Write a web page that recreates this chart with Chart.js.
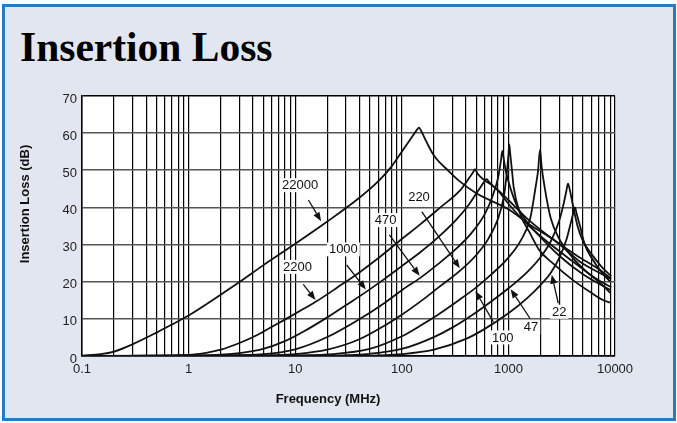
<!DOCTYPE html>
<html>
<head>
<meta charset="utf-8">
<title>Insertion Loss</title>
<script src="https://cdn.jsdelivr.net/npm/chart.js@4.4.1/dist/chart.umd.min.js"></script>
<style>
  html, body { margin: 0; padding: 0; background: #fff; }
  body { width: 677px; height: 423px; position: relative; overflow: hidden; }
  .panel { position: absolute; left: 2px; top: 4px; width: 668px; height: 411px; background: #e2e6f0; border: 3px solid #2a7abf; }
  h1 { position: absolute; left: 20px; top: 27px; margin: 0; font: bold 41.5px/41px "Liberation Serif", serif; color: #000; }
  #chart { position: absolute; left: 0; top: 0; }
</style>
</head>
<body>
<div class="panel"></div>
<h1>Insertion Loss</h1>
<canvas id="chart" width="677" height="423"></canvas>
<script>
// frequency axis (MHz): labelled decades
const decadeTicks = [0.1, 1, 10, 100, 1000, 10000];
const decadeLabels = ['0.1', '1', '10', '100', '1000', '10000'];

// capacitance of each curve (pF)
const capLabels = ['22000', '2200', '1000', '470', '220', '100', '47', '22'];

// insertion loss curves: frequency (MHz) / loss (dB)
const freq22000 = [0.1, 0.15, 0.2, 0.3, 0.5, 0.7, 1, 2, 3, 5, 10, 20, 40, 60, 80, 100, 120, 138, 145, 152, 170, 200, 280, 350, 500, 1000, 1600, 2800, 4700, 7800, 9000];
const loss22000 = [0.1, 0.5, 1.2, 3.2, 6.3, 8.5, 10.9, 16.5, 19.9, 24.4, 30.2, 36.2, 42.6, 47, 51, 55, 58.3, 60.8, 61.5, 60.6, 57.7, 54, 49.6, 47, 43.8, 39.5, 35.3, 30.8, 25.4, 21.8, 20.8];

const freq2200 = [0.1, 1, 1.5, 2, 3, 4.5, 6, 8, 12, 16, 25, 40, 60, 100, 150, 230, 350, 430, 470, 486, 510, 600, 700, 850, 1000, 1500, 2600, 4400, 7200, 9200];
const loss2200 = [0, 0.3, 0.9, 1.7, 3.5, 5.8, 7.8, 9.8, 12.7, 14.8, 18.5, 22.5, 26.3, 31.5, 35.5, 40, 44.5, 48, 49.6, 50.3, 49.2, 47.3, 46, 44, 42, 37, 31.5, 27, 23.2, 20.8];

const freq1000 = [0.1, 1, 3, 5, 8, 12, 20, 30, 47, 70, 100, 150, 220, 320, 420, 520, 590, 626, 660, 800, 1000, 1500, 2500, 4000, 6500, 9200];
const loss1000 = [0, 0.1, 0.8, 1.9, 4, 6.6, 10.4, 13.7, 17.4, 20.9, 24.2, 28, 32, 36.5, 40.5, 44.5, 46.8, 47.6, 46.8, 44.5, 41, 35.5, 30, 25.5, 21, 18.5];

const freq470 = [0.1, 1, 5, 10, 20, 40, 70, 100, 150, 220, 330, 450, 600, 720, 800, 850, 877, 910, 950, 1050, 1200, 1500, 2000, 3000, 5000, 7000, 9000];
const loss470 = [0, 0.02, 0.5, 1.8, 5.1, 9.9, 14.4, 17.7, 21.1, 24.8, 29.1, 33.1, 38.2, 43.5, 48, 52.5, 55.2, 52.5, 49.5, 45, 40.5, 36, 32, 27, 22, 19.5, 17.8];

const freq220 = [0.1, 5, 10, 20, 40, 70, 100, 150, 220, 350, 500, 650, 800, 900, 960, 1000, 1019, 1040, 1080, 1120, 1280, 1600, 1950, 2600, 4000, 6000, 7800, 9000];
const loss220 = [0, 0.1, 0.5, 1.7, 4.5, 8.3, 11.1, 14.7, 18.4, 22.9, 27.2, 31.6, 37, 42.5, 48.5, 54, 57, 54.5, 50, 45.5, 38.5, 33, 28.5, 25, 20.5, 17, 15, 14.4];

const freq100 = [0.1, 10, 20, 50, 100, 150, 220, 330, 486, 700, 1000, 1300, 1600, 1800, 1900, 1978, 2050, 2200, 2500, 3000, 4000, 5500, 7500, 9000];
const loss100 = [0, 0.1, 0.4, 1.9, 5.3, 8.2, 11.2, 14.7, 18.2, 22.1, 26.5, 31, 37, 45.5, 50, 55.5, 51, 45, 37, 31.5, 26.5, 22.5, 19.3, 17];

const freq47 = [0.1, 20, 50, 100, 200, 300, 500, 700, 1050, 1500, 2000, 2500, 3000, 3300, 3500, 3623, 3750, 4000, 4500, 5000, 6000, 7500, 9200];
const loss47 = [0, 0.1, 0.6, 1.9, 5.1, 7.7, 11.8, 14.8, 18.7, 22.6, 26.6, 30.9, 36.5, 41, 44.5, 46.4, 45, 41, 34.5, 31, 27.5, 24, 21.5];

const freq22 = [0.1, 50, 100, 200, 400, 600, 1000, 1500, 2000, 2500, 3000, 3500, 3900, 4100, 4217, 4350, 4700, 5200, 6000, 7500, 9000];
const loss22 = [0, 0.1, 0.5, 1.7, 4.6, 7.3, 11.5, 15.6, 19.1, 22.4, 26.4, 31.3, 36.5, 39, 40, 38.5, 35, 30, 26.5, 22.5, 20];

// callouts: text centre, arrow start, arrow tip  (MHz, dB)
const callouts = [
  { text: '22000', at: [11.1, 46], from: [13.3, 42], to: [17.5, 36.3] },
  { text: '2200', at: [10.5, 24], from: [11.9, 19.3], to: [15.5, 15.1] },
  { text: '1000', at: [28.3, 28.7], from: [30.4, 24.5], to: [46, 17.9] },
  { text: '470', at: [70.6, 36.6], from: [76.4, 32.6], to: [147, 21.6] },
  { text: '220', at: [145, 42.9], from: [154, 38.9], to: [350, 23.6] },
  { text: '100', at: [885, 5.0], from: [722, 9.2], to: [490, 17.5] },
  { text: '47', at: [1630, 7.7], from: [1596, 10.1], to: [1050, 18.0] },
  { text: '22', at: [3000, 11.9], from: [2937, 14.2], to: [2550, 21.9] }
];

const curves = [
  [freq22000, loss22000], [freq2200, loss2200], [freq1000, loss1000], [freq470, loss470],
  [freq220, loss220], [freq100, loss100], [freq47, loss47], [freq22, loss22]
];

const datasets = curves.map(([f, db], i) => ({
  label: capLabels[i],
  data: f.map((x, j) => ({ x: x, y: db[j] })),
  borderColor: '#111',
  borderWidth: 1.8,
  pointRadius: 0,
  fill: false,
  cubicInterpolationMode: 'monotone'
}));

// white plot area, callouts and axis titles
const decorations = {
  id: 'decorations',
  beforeDraw(chart) {
    const a = chart.chartArea;
    const ctx = chart.ctx;
    ctx.save();
    ctx.fillStyle = '#fff';
    ctx.fillRect(a.left, a.top, a.right - a.left, a.bottom - a.top);
    ctx.restore();
  },
  afterDatasetsDraw(chart) {
    const ctx = chart.ctx;
    const xs = chart.scales.x, ys = chart.scales.y;
    const px = p => [xs.getPixelForValue(p[0]), ys.getPixelForValue(p[1])];
    ctx.save();
    ctx.font = '13px "Liberation Sans", Arial, sans-serif';
    ctx.textAlign = 'center';
    ctx.textBaseline = 'middle';
    callouts.forEach(c => {
      const [tx, ty] = px(c.at);
      const w = ctx.measureText(c.text).width + 4;
      ctx.fillStyle = '#fff';
      ctx.fillRect(tx - w / 2, ty - 7, w, 14);
      ctx.fillStyle = '#111';
      ctx.fillText(c.text, tx, ty + 0.5);

      const [x0, y0] = px(c.from);
      const [x1, y1] = px(c.to);
      const ang = Math.atan2(y1 - y0, x1 - x0);
      const len = 9, half = 3.5;
      const bx = x1 - Math.cos(ang) * len, by = y1 - Math.sin(ang) * len;
      ctx.strokeStyle = '#111';
      ctx.lineWidth = 1.3;
      ctx.beginPath();
      ctx.moveTo(x0, y0);
      ctx.lineTo(bx, by);
      ctx.stroke();
      ctx.beginPath();
      ctx.moveTo(x1, y1);
      ctx.lineTo(bx + Math.sin(ang) * half, by - Math.cos(ang) * half);
      ctx.lineTo(bx - Math.sin(ang) * half, by + Math.cos(ang) * half);
      ctx.closePath();
      ctx.fill();
    });
    ctx.restore();
  },
  afterDraw(chart) {
    const ctx = chart.ctx;
    ctx.save();
    ctx.font = 'bold 13px "Liberation Sans", Arial, sans-serif';
    ctx.fillStyle = '#111';
    ctx.textAlign = 'center';
    ctx.textBaseline = 'middle';
    ctx.fillText('Frequency (MHz)', 328, 399);
    ctx.translate(25, 204);
    ctx.rotate(-Math.PI / 2);
    ctx.fillText('Insertion Loss (dB)', 0, 0);
    ctx.restore();
  }
};

new Chart(document.getElementById('chart'), {
  type: 'line',
  data: { datasets: datasets },
  options: {
    responsive: false,
    animation: false,
    events: [],
    layout: { padding: { top: 96, right: 62, bottom: 0, left: 0 } },
    plugins: { legend: { display: false }, tooltip: { enabled: false } },
    scales: {
      x: {
        type: 'logarithmic',
        min: 0.1,
        max: 10000,
        afterFit: s => { s.height = 67; },
        afterBuildTicks: s => {
          const t = [];
          decadeTicks.forEach((d, i) => {
            if (i === decadeTicks.length - 1) { t.push({ value: d }); return; }
            for (let m = 1; m < 10; m++) t.push({ value: +(d * m).toPrecision(3) });
          });
          s.ticks = t;
        },
        ticks: {
          autoSkip: false,
          maxRotation: 0,
          padding: 6,
          color: '#222',
          font: { family: '"Liberation Sans", Arial, sans-serif', size: 13 },
          callback: v => {
            const i = decadeTicks.indexOf(v);
            return i >= 0 ? decadeLabels[i] : '';
          }
        },
        grid: { color: '#000', lineWidth: 1.2, drawTicks: false },
        border: { color: '#000', width: 1.5 }
      },
      y: {
        min: 0,
        max: 70,
        afterFit: s => { s.width = 82; },
        ticks: {
          stepSize: 10,
          padding: 5,
          labelOffset: 3,
          color: '#222',
          font: { family: '"Liberation Sans", Arial, sans-serif', size: 13 }
        },
        grid: {
          color: c => (c.tick && (c.tick.value === 70 || c.tick.value === 0)) ? '#000' : '#555',
          lineWidth: 1.6,
          drawTicks: false
        },
        border: { color: '#000', width: 1.5 }
      }
    }
  },
  plugins: [decorations]
});
</script>
</body>
</html>
